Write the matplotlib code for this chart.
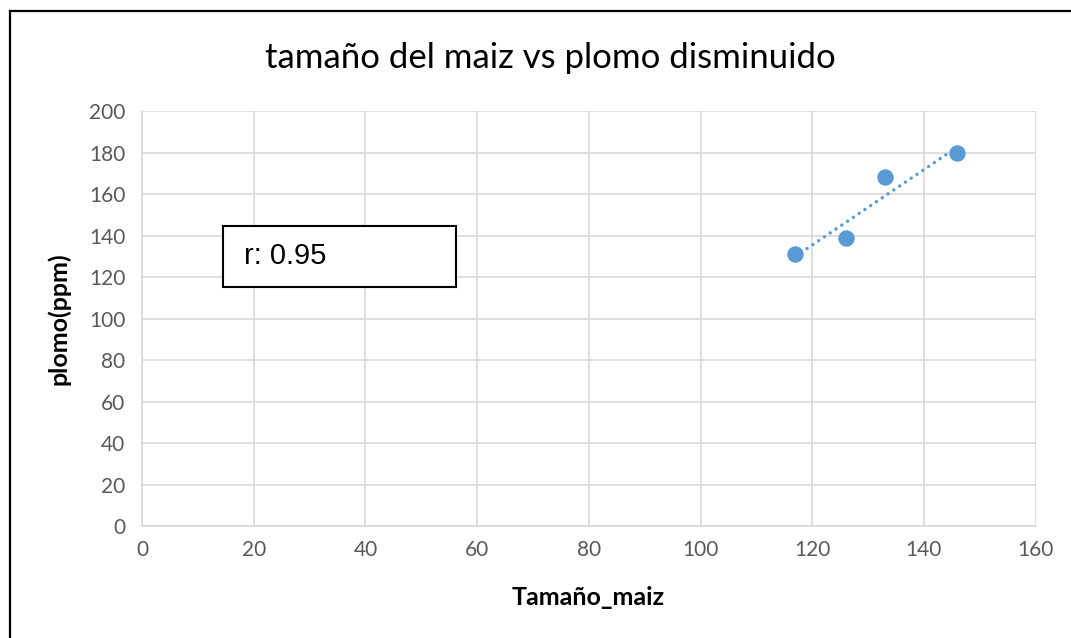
import numpy as np
import matplotlib.pyplot as plt
from matplotlib.lines import Line2D
from matplotlib.patches import Rectangle

# tamaño del maiz y plomo disminuido
tamano = [117, 126, 133, 146]
plomo = [131, 139, 168, 180]
r_text = "r: 0.95"

x_ticks = [0, 20, 40, 60, 80, 100, 120, 140, 160]
y_ticks = [0, 20, 40, 60, 80, 100, 120, 140, 160, 180, 200]

blue = "#5B9BD5"
grid = "#D9D9D9"
tick_col = "#595959"

plt.rcParams['font.family'] = ['Lato', 'DejaVu Sans']

fig = plt.figure(figsize=(10.71, 6.38), dpi=100)
ax = fig.add_axes([0.1326, 0.1755, 0.8344, 0.6505])

# linea de tendencia
m, b = np.polyfit(tamano, plomo, 1)
xs = np.array([min(tamano), max(tamano)])
ax.plot(xs, m * xs + b, linestyle=(0, (0.01, 2.0)), color=blue, lw=2.5,
        dash_capstyle='round', zorder=3)
ax.scatter(tamano, plomo, s=140, color=blue, zorder=4, linewidths=0)

ax.set_xlim(0, 160)
ax.set_ylim(0, 200)
ax.set_xticks(x_ticks)
ax.set_yticks(y_ticks)
ax.grid(True, color=grid, lw=1.2)
ax.set_axisbelow(True)
for s in ['top', 'right']:
    ax.spines[s].set_visible(False)
for s in ['left', 'bottom']:
    ax.spines[s].set_color(grid)
    ax.spines[s].set_linewidth(1.2)
ax.tick_params(length=0, labelsize=15, colors=tick_col, pad=10)
ax.tick_params(axis='y', pad=12)

fig.text(0.514, 0.909, "tamaño del maiz vs plomo disminuido",
         ha='center', va='center', fontsize=25)
fig.text(0.5495, 0.064, "Tamaño_maiz", ha='center', va='center',
         fontsize=18, fontweight='bold')
fig.text(0.055, 0.5, "plomo(ppm)", ha='center', va='center',
         fontsize=18, fontweight='bold', rotation=90)

# recuadro con el coeficiente
fig.patches.append(Rectangle((0.208, 0.5506), 0.2175, 0.0952,
                             transform=fig.transFigure, fill=True,
                             facecolor='white', edgecolor='black', lw=1.5,
                             zorder=5))
fig.text(0.228, 0.598, r_text, ha='left', va='center', fontsize=21,
         family='Liberation Sans', zorder=6)

# borde del grafico
fig.lines.append(Line2D([0.0093, 0.0093], [0, 0.9835], transform=fig.transFigure,
                        color='black', lw=1.6))
fig.lines.append(Line2D([0.0093, 1], [0.9835, 0.9835], transform=fig.transFigure,
                        color='black', lw=1.6))

fig.savefig('out.png', dpi=100)
